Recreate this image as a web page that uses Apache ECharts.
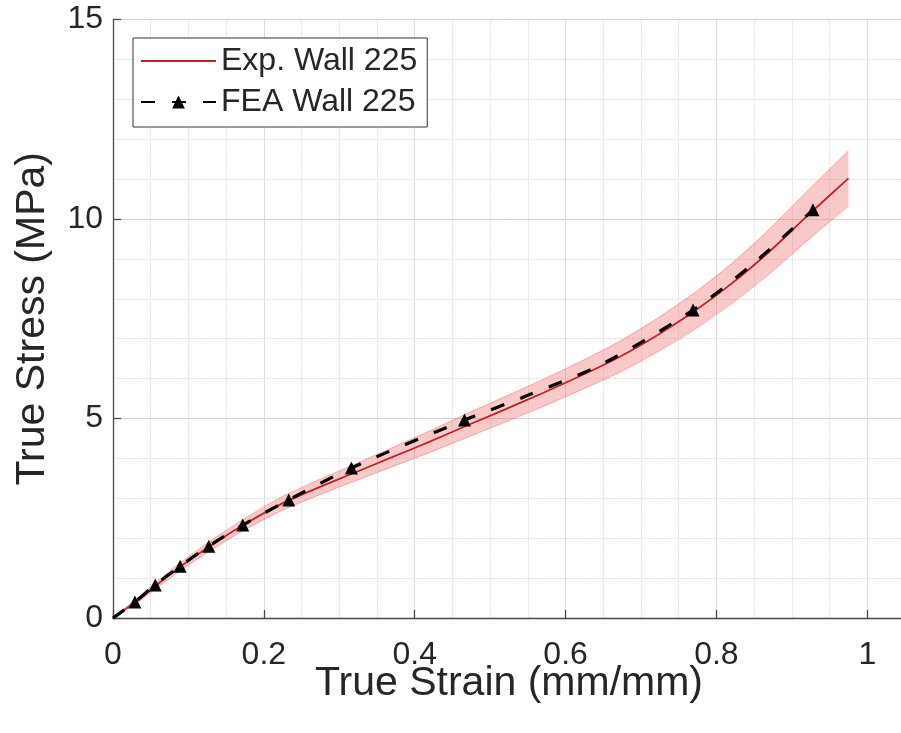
<!DOCTYPE html>
<html>
<head>
<meta charset="utf-8">
<script src="https://cdn.jsdelivr.net/npm/echarts@6/dist/echarts.min.js"></script>
<style>
html,body{margin:0;padding:0;background:#fff;}
#c{width:901px;height:733px;}
</style>
</head>
<body>
<div id="c"></div>
<script>
// Experimental curve (mean) and scatter band
const expStrain = [0,0.03,0.06,0.09,0.13,0.17,0.22,0.27,0.32,0.37,0.42,0.47,0.52,0.57,0.62,0.67,0.72,0.77,0.82,0.87,0.92,0.975];
const expStress = [0,0.41,0.86,1.30,1.82,2.30,2.83,3.25,3.64,4.03,4.42,4.83,5.23,5.64,6.07,6.53,7.07,7.68,8.38,9.18,10.07,11.02];
const bandUpper = [0,0.46,0.94,1.40,1.94,2.44,3.00,3.44,3.85,4.27,4.69,5.13,5.55,5.98,6.43,6.92,7.49,8.14,8.88,9.74,10.69,11.71];
const bandLower = [0,0.36,0.78,1.20,1.70,2.16,2.66,3.06,3.43,3.79,4.15,4.53,4.91,5.30,5.71,6.14,6.65,7.22,7.88,8.62,9.45,10.33];

// FEA curve: line points and which of them carry a marker
const feaStrain = [0,0.029,0.056,0.089,0.127,0.172,0.233,0.316,0.466,0.55,0.65,0.769,0.85,0.928];
const feaStress = [0,0.40,0.83,1.30,1.80,2.33,2.96,3.76,4.96,5.58,6.38,7.72,8.90,10.23];
const feaMarker = [0,1,1,1,1,1,1,1,1,0,0,1,0,1];

// Axis ticks
const xTicks = {min:0, max:1.05, major:0.2, minor:0.05};
const yTicks = {min:0, max:15, major:5, minorSplit:5};

const chart = echarts.init(document.getElementById('c'), null, {renderer:'canvas'});
const FONT = '"Liberation Sans", Arial, Helvetica, sans-serif';
const TXT = '#262626';
const AX = '#4a4a4a';

const bandData = expStrain.map((x,i)=>[x, bandUpper[i]]);
const expData = expStrain.map((x,i)=>[x, expStress[i]]);
const feaData = feaStrain.map((x,i)=>feaMarker[i] ? {value:[x, feaStress[i]]} : {value:[x, feaStress[i]], symbol:'none'});

const option = {
  backgroundColor:'#fff',
  animation:false,
  textStyle:{fontFamily:FONT},
  grid:{left:113, right:-4, top:19.5, bottom:115, containLabel:false, outerBoundsMode:'none'},
  legend:{
    data:[{name:'Exp. Wall 225', itemStyle:{opacity:0}}, {name:'FEA Wall 225'}],
    orient:'vertical',
    left:133, top:38,
    backgroundColor:'#fff',
    borderColor:'#333', borderWidth:1,
    padding:[5,10,7,7],
    itemGap:5,
    itemWidth:75, itemHeight:16,
    textStyle:{fontSize:32, color:TXT, fontFamily:FONT, lineHeight:36},
    selectedMode:false
  },
  xAxis:[{
    type:'value', min:xTicks.min, max:xTicks.max, interval:xTicks.major, position:'bottom',
    axisLine:{show:true, onZero:false, lineStyle:{color:AX, width:1.3}},
    axisTick:{show:true, inside:true, length:8, lineStyle:{color:AX, width:1.3}},
    axisLabel:{fontSize:32, color:TXT, margin:21, showMaxLabel:false, fontFamily:FONT,
      formatter:v=> (Math.abs(v-1.05)<1e-6) ? '' : String(+v.toFixed(2))},
    splitLine:{show:true, lineStyle:{color:'#d4d4d4', width:1}},
    name:'True Strain (mm/mm)', nameLocation:'middle', nameGap:45, nameMoveOverlap:false,
    nameTextStyle:{fontSize:41, color:TXT, fontFamily:FONT}
  },{
    type:'value', min:xTicks.min, max:xTicks.max, interval:xTicks.minor, position:'top',
    axisLine:{show:false}, axisTick:{show:false}, axisLabel:{show:false},
    splitLine:{show:true, lineStyle:{color:'#e0e0e0', width:1, type:[2,1]}}
  }],
  yAxis:{
    type:'value', min:yTicks.min, max:yTicks.max, interval:yTicks.major,
    axisLine:{show:true, onZero:false, lineStyle:{color:AX, width:1.3}},
    axisTick:{show:true, inside:true, length:8, lineStyle:{color:AX, width:1.3}},
    minorTick:{show:false, splitNumber:yTicks.minorSplit},
    minorSplitLine:{show:true, lineStyle:{color:'#e0e0e0', width:1, type:[2,1]}},
    axisLabel:{fontSize:32, color:TXT, margin:10, fontFamily:FONT},
    splitLine:{show:true, lineStyle:{color:'#d4d4d4', width:1}},
    name:'True Stress (MPa)', nameLocation:'middle', nameGap:60, nameRotate:90,
    nameTextStyle:{fontSize:41, color:TXT, fontFamily:FONT}
  },
  series:[
    {
      name:'band', type:'custom', coordinateSystem:'cartesian2d', xAxisIndex:0, yAxisIndex:0,
      data:bandData, silent:true, z:1,
      renderItem:function(params, api){
        if (params.dataIndex !== 0) return null;
        const up = expStrain.map((x,i)=>api.coord([x, bandUpper[i]]));
        const lo = expStrain.map((x,i)=>api.coord([x, bandLower[i]]));
        const poly = up.concat(lo.slice().reverse());
        return {type:'group', children:[
          {type:'polygon', shape:{points:poly}, style:{fill:'rgba(238,110,110,0.38)', stroke:null}},
          {type:'polyline', shape:{points:up, smooth:0.3}, style:{stroke:'rgba(230,120,120,0.55)', lineWidth:1, fill:null}},
          {type:'polyline', shape:{points:lo, smooth:0.3}, style:{stroke:'rgba(230,120,120,0.55)', lineWidth:1, fill:null}}
        ]};
      }
    },
    {
      name:'Exp. Wall 225', type:'line', data:expData, smooth:0.3, symbol:'none',
      lineStyle:{color:'#bb262b', width:1.8}, itemStyle:{color:'#bb262b'}, z:3
    },
    {
      name:'FEA Wall 225', type:'line', data:feaData, smooth:0.3,
      symbol:'triangle', symbolSize:13,
      lineStyle:{color:'#000', width:3.2, type:[14,17]},
      itemStyle:{color:'#000'}, z:4
    }
  ]
};
chart.setOption(option);
</script>
</body>
</html>
